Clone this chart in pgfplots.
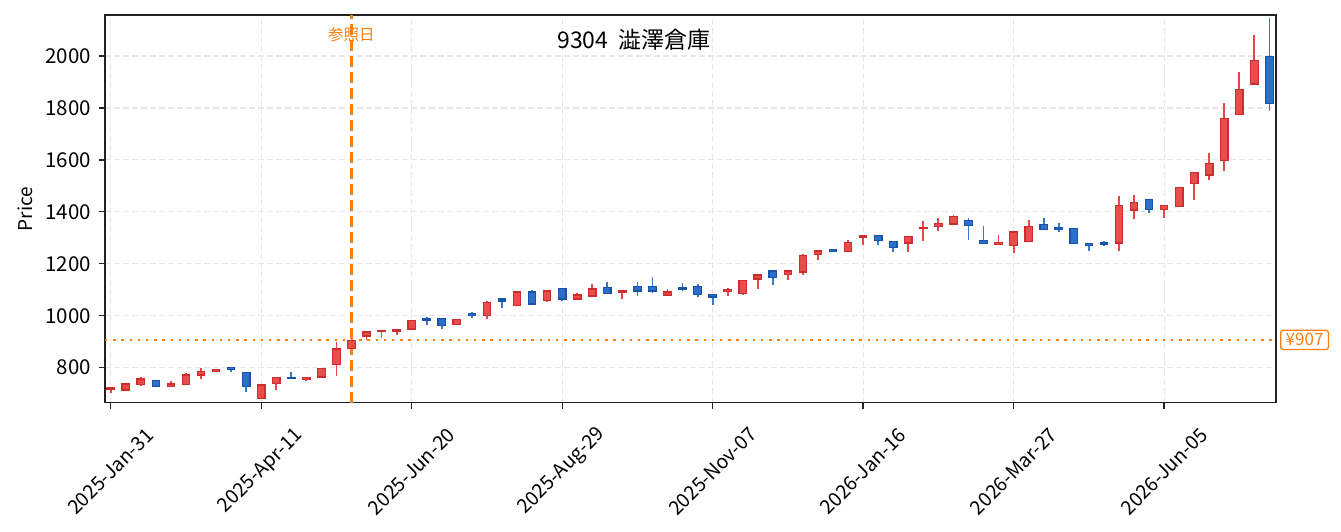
\documentclass[border=0pt]{standalone}
\usepackage{fontspec}
\setmainfont{Noto Sans CJK JP}
\usepackage{pgfplots}
\pgfplotsset{compat=1.18}
\usepackage{pgfplotstable}

\definecolor{upfill}{RGB}{232,76,76}
\definecolor{upedge}{RGB}{205,45,45}
\definecolor{upwick}{RGB}{230,72,72}
\definecolor{dnfill}{RGB}{45,110,200}
\definecolor{dnedge}{RGB}{25,82,170}
\definecolor{dnwick}{RGB}{55,120,205}
\definecolor{refor}{RGB}{255,127,14}
\definecolor{gridc}{RGB}{232,232,232}
\definecolor{axc}{RGB}{34,34,34}

% weekly candles: index, open, high, low, close
\pgfplotstableread{
x o h l c
0 718 726 703 722
1 714 738 709 737
2 734 765 728 756
4 726 750 725 737
5 734 781 733 772
6 772 800 755 785
7 785 793 782 792
10 680 738 679 733
11 739 764 715 763
13 755 764 747 763
14 764 798 759 797
15 811 900 767 872
16 873 918 870 905
17 922 942 908 937
18 939 944 916 943
19 941 949 924 947
20 949 981 948 980
23 965 987 964 986
25 1000 1058 987 1051
27 1040 1095 1036 1091
29 1060 1100 1051 1095
31 1064 1087 1063 1080
32 1076 1123 1075 1103
34 1088 1096 1066 1095
37 1080 1103 1075 1091
41 1094 1108 1074 1101
42 1087 1137 1081 1136
43 1141 1162 1104 1157
45 1160 1176 1138 1172
46 1168 1236 1156 1231
47 1237 1250 1213 1249
49 1246 1292 1245 1283
50 1303 1311 1274 1310
53 1280 1307 1246 1306
54 1335 1365 1286 1340
55 1345 1376 1328 1355
56 1353 1388 1350 1383
59 1273 1311 1272 1283
60 1269 1327 1243 1322
61 1286 1369 1282 1345
67 1280 1461 1251 1424
68 1407 1465 1373 1437
70 1410 1425 1378 1424
71 1421 1494 1417 1493
72 1508 1552 1446 1551
73 1542 1626 1523 1586
74 1599 1818 1559 1760
75 1776 1939 1775 1871
76 1892 2081 1891 1982
}\upcandles

\pgfplotstableread{
x o h l c
3 752 753 725 726
8 802 803 782 792
9 780 785 708 726
12 763 785 756 757
21 987 995 963 980
22 990 991 949 963
24 1008 1014 991 1000
26 1064 1068 1028 1057
28 1091 1099 1040 1045
30 1105 1106 1055 1064
33 1110 1128 1084 1085
35 1114 1131 1074 1095
36 1114 1150 1087 1095
38 1110 1127 1097 1103
39 1113 1122 1071 1081
40 1082 1083 1043 1072
44 1172 1173 1120 1146
48 1255 1256 1245 1246
51 1310 1311 1274 1291
52 1286 1287 1245 1264
57 1366 1376 1290 1346
58 1290 1346 1276 1277
62 1352 1376 1330 1331
63 1340 1357 1322 1331
64 1336 1337 1276 1277
65 1279 1280 1251 1269
66 1283 1288 1267 1276
69 1449 1450 1397 1410
77 1999 2146 1790 1818
}\dncandles

% pt per price unit: 387.7pt / (2158-665)
\newcommand\yfac{0.25968}
\pgfdeclareplotmark{cbody}{%
  \pgfpathrectangle{\pgfpoint{-3.75pt}{0pt}}{\pgfpoint{7.5pt}{\bodyh pt}}%
  \pgfusepathqfillstroke}

\begin{document}
\begin{tikzpicture}
\path[use as bounding box] (0,0) rectangle (1341pt,532pt);
\begin{axis}[
  at={(105pt,129.3pt)}, anchor=south west,
  scale only axis, width=1170.7pt, height=387.7pt,
  xmin=-0.38, xmax=77.42, ymin=665, ymax=2158,
  axis line style={axc, line width=1.6pt},
  xtick={0,10,...,70},
  xticklabels={2025-Jan-31,2025-Apr-11,2025-Jun-20,2025-Aug-29,2025-Nov-07,2026-Jan-16,2026-Mar-27,2026-Jun-05},
  ytick={800,1000,...,2000},
  tick align=outside, xtick pos=lower, ytick pos=left,
  major tick length=6pt,
  every tick/.style={axc, line width=1.3pt},
  grid=major,
  major grid style={gridc, line width=1.2pt, dash pattern=on 6pt off 3pt},
  tick label style={font=\fontsize{19.5}{22}\selectfont, text=black},
  /pgf/number format/assume math mode=true,
  /pgf/number format/1000 sep={},
  yticklabel style={anchor=east, inner sep=0pt, xshift=-8pt, font=\fontsize{20.5}{22}\selectfont},
  xticklabel style={yshift=-62.7pt, rotate=45, anchor=center, inner sep=0pt},
  ylabel={Price},
  every axis y label/.style={at={(axis description cs:-0.0683,0.5)}, rotate=90, anchor=center, font=\fontsize{19}{22}\selectfont},
]
% wicks
\addplot[draw=none, mark=none, forget plot, error bars/.cd, y dir=plus, y explicit, error mark=none,
  error bar style={draw=upwick, solid, line width=1.8pt}]
  table[x=x, y=l, y error expr=\thisrow{h}-\thisrow{l}] {\upcandles};
\addplot[draw=none, mark=none, forget plot, error bars/.cd, y dir=plus, y explicit, error mark=none,
  error bar style={draw=dnwick, solid, line width=1.8pt}]
  table[x=x, y=l, y error expr=\thisrow{h}-\thisrow{l}] {\dncandles};
% bodies
\addplot[only marks, mark=cbody, mark options={fill=upfill, draw=upedge, line width=1.2pt, solid},
  visualization depends on={(\thisrow{c}-\thisrow{o})*\yfac \as \bodyh}]
  table[x=x, y=o] {\upcandles};
\addplot[only marks, mark=cbody, mark options={fill=dnfill, draw=dnedge, line width=1.2pt, solid},
  visualization depends on={(\thisrow{c}-\thisrow{o})*\yfac \as \bodyh}]
  table[x=x, y=o] {\dncandles};
% reference lines
\addplot[refor, line width=2.2pt, dash pattern=on 11pt off 5pt] coordinates {(16,665) (16,2158)};
\addplot[refor, line width=2.2pt, dash pattern=on 2.3pt off 5.9pt] coordinates {(-0.38,907) (77.42,907)};
\coordinate (ttl) at (axis cs:34.78,2061.5);
\coordinate (refl) at (axis cs:16,2083);
\coordinate (p907) at (axis cs:77.42,907);
\end{axis}
\node[font=\fontsize{23}{26}\selectfont, text=black] at (ttl) {9304\ \ 澁澤倉庫};
\node[font=\fontsize{15.5}{18}\selectfont, text=refor] at (refl) {参照日};
\node[anchor=west, xshift=4.3pt, draw=refor, line width=1.3pt, rounded corners=2.5pt, fill=white,
  text=refor, font=\fontsize{17}{18}\selectfont, inner xsep=5pt, inner ysep=3.3pt] at (p907) {¥907};
\end{tikzpicture}
\end{document}
